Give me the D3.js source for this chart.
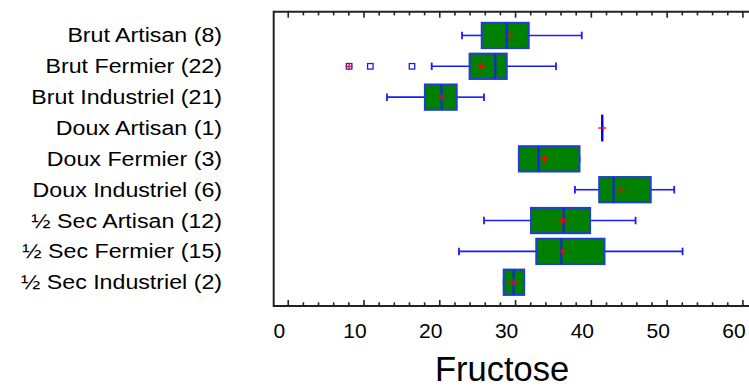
<!DOCTYPE html>
<html>
<head>
<meta charset="utf-8">
<script src="https://cdn.jsdelivr.net/npm/d3@7"></script>
<style>
  html, body { margin: 0; padding: 0; background: #fff; }
  svg { display: block; font-family: "Liberation Sans", Arial, sans-serif; }
</style>
</head>
<body>
<svg id="chart" width="749" height="388"></svg>
<script>
// Fructose content by cider type and production mode (box-and-whisker summary)
const categories = [
  "Brut Artisan (8)", "Brut Fermier (22)", "Brut Industriel (21)",
  "Doux Artisan (1)", "Doux Fermier (3)", "Doux Industriel (6)",
  "½ Sec Artisan (12)", "½ Sec Fermier (15)", "½ Sec Industriel (2)"
];
const whiskerLow  = [23.0, 19.0, 13.1, 41.5, 30.5, 37.9, 25.9, 22.6, 28.5];
const q1          = [25.6, 24.0, 18.1, 41.5, 30.5, 41.1, 32.1, 32.8, 28.5];
const median      = [28.9, 27.4, 20.3, 41.5, 33.1, 43.0, 36.4, 36.1, 29.8];
const q3          = [31.8, 28.9, 22.3, 41.5, 38.5, 47.9, 39.9, 41.8, 31.2];
const whiskerHigh = [38.8, 35.4, 25.9, 41.5, 38.5, 51.0, 45.9, 52.1, 31.2];
const mean        = [29.3, 25.5, 20.3, 41.5, 33.9, 44.0, 36.3, 36.3, 29.8];
// Points beyond the whiskers: [category index, value, far outside?]
const outliers = [[1, 8.1, true], [1, 10.9, false], [1, 16.4, false]];
const xTicks = [0, 10, 20, 30, 40, 50, 60];
const xTitle = "Fructose";

const svg = d3.select("#chart");
const plotTop = 11.7, plotBottom = 306, plotLeft = 273.7, plotRight = 750;

const x = d3.scaleLinear().domain([-1.85, 61]).range([plotLeft, plotRight]);
const y = d3.scalePoint().domain(categories).range([plotTop, plotBottom]).padding(0.77);
const boxH = y.step() * 0.82;
const capH = 7.5;

const blue = "#1a1aff";
const rows = categories.map((c, i) => ({
  c, lo: whiskerLow[i], q1: q1[i], med: median[i], q3: q3[i], hi: whiskerHigh[i], mean: mean[i]
}));

const g = svg.append("g");

// whiskers
rows.forEach(d => {
  const cy = y(d.c);
  g.append("line").attr("x1", x(d.lo)).attr("x2", x(d.q1)).attr("y1", cy).attr("y2", cy)
    .attr("stroke", blue).attr("stroke-width", 1.6);
  g.append("line").attr("x1", x(d.q3)).attr("x2", x(d.hi)).attr("y1", cy).attr("y2", cy)
    .attr("stroke", blue).attr("stroke-width", 1.6);
  [d.lo, d.hi].forEach(v => {
    g.append("line").attr("x1", x(v)).attr("x2", x(v)).attr("y1", cy - capH / 2).attr("y2", cy + capH / 2)
      .attr("stroke", blue).attr("stroke-width", 1.8);
  });
});

// boxes and medians (a single observation collapses to one vertical bar)
rows.forEach(d => {
  const cy = y(d.c);
  const single = !(d.q3 > d.q1);
  if (!single) {
    g.append("rect").attr("x", x(d.q1)).attr("y", cy - boxH / 2)
      .attr("width", x(d.q3) - x(d.q1)).attr("height", boxH)
      .attr("fill", "#008000").attr("stroke", "#1f3fd0").attr("stroke-width", 2);
  }
  const mh = single ? boxH * 1.06 : boxH;
  g.append("line").attr("x1", x(d.med)).attr("x2", x(d.med))
    .attr("y1", cy - mh / 2).attr("y2", cy + mh / 2)
    .attr("stroke", single ? "#0000ff" : blue).attr("stroke-width", single ? 2.4 : 2);
});

// means
rows.forEach(d => {
  const cy = y(d.c), mx = x(d.mean), s = 4;
  g.append("line").attr("x1", mx - s).attr("x2", mx + s).attr("y1", cy).attr("y2", cy)
    .attr("stroke", "#ff0000").attr("stroke-width", 1.3);
  if (d.q3 > d.q1) {
    g.append("line").attr("x1", mx).attr("x2", mx).attr("y1", cy - s).attr("y2", cy + s)
      .attr("stroke", "#ff0000").attr("stroke-width", 1.3);
  }
});

// outside points
outliers.forEach(([i, v, far]) => {
  const cy = y(categories[i]), ox = x(v), s = 5.5;
  g.append("rect").attr("x", ox - s / 2).attr("y", cy - s / 2).attr("width", s).attr("height", s)
    .attr("fill", "#fff").attr("stroke", blue).attr("stroke-width", 1.3);
  if (far) {
    g.append("line").attr("x1", ox - 3.5).attr("x2", ox + 3.5).attr("y1", cy).attr("y2", cy)
      .attr("stroke", "#ff0000").attr("stroke-width", 1.2);
    g.append("line").attr("x1", ox).attr("x2", ox).attr("y1", cy - 3.5).attr("y2", cy + 3.5)
      .attr("stroke", "#ff0000").attr("stroke-width", 1.2);
  }
});

// frame
const frame = svg.append("g").attr("stroke", "#222").attr("stroke-width", 2).attr("fill", "none");
frame.append("line").attr("x1", plotLeft).attr("x2", plotRight + 2).attr("y1", plotTop).attr("y2", plotTop);
frame.append("line").attr("x1", plotLeft).attr("x2", plotRight + 2).attr("y1", plotBottom).attr("y2", plotBottom);
frame.append("line").attr("x1", plotLeft).attr("x2", plotLeft).attr("y1", plotTop - 1).attr("y2", plotBottom + 1);

// inward ticks on bottom and top
const minor = d3.range(0, 61, 2).filter(v => v % 10 !== 0);
const bottomAxis = d3.axisBottom(x).tickValues(xTicks).tickSize(-6).tickFormat("");
const bottomMinor = d3.axisBottom(x).tickValues(minor).tickSize(-3.7).tickFormat("");
const topAxis = d3.axisTop(x).tickValues(xTicks).tickSize(-6).tickFormat("");
const topMinor = d3.axisTop(x).tickValues(minor).tickSize(-3.7).tickFormat("");
[[bottomAxis, plotBottom], [bottomMinor, plotBottom], [topAxis, plotTop], [topMinor, plotTop]].forEach(([ax, yy]) => {
  const a = svg.append("g").attr("transform", `translate(0,${yy})`).call(ax);
  a.select(".domain").remove();
  a.selectAll("line").attr("stroke", "#222").attr("stroke-width", 1.6);
});

// tick labels
svg.append("g").selectAll("text").data(xTicks).join("text")
  .attr("x", d => x(d) - 8.5).attr("y", 338)
  .attr("text-anchor", "middle").attr("font-size", 21).attr("fill", "#000")
  .text(d => d);

// axis title
svg.append("text").attr("x", 502).attr("y", 381).attr("text-anchor", "middle")
  .attr("font-size", 34.5).attr("fill", "#000").text(xTitle);

// category labels
svg.append("g").selectAll("text").data(categories).join("text")
  .attr("transform", d => `translate(222,${y(d) + 7}) scale(1.16,1)`)
  .attr("text-anchor", "end").attr("font-size", 20).attr("fill", "#000")
  .text(d => d);
</script>
</body>
</html>
